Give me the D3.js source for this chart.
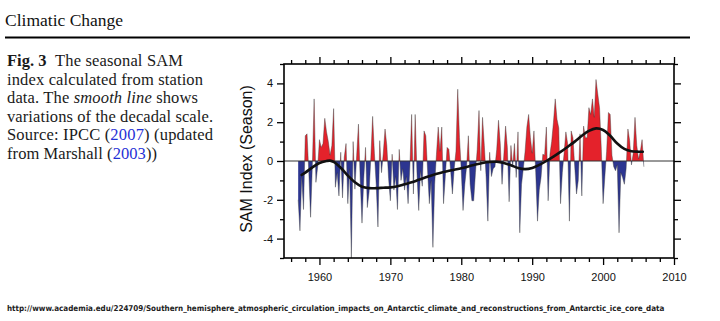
<!DOCTYPE html>
<html>
<head>
<meta charset="utf-8">
<script src="https://cdn.jsdelivr.net/npm/d3@7"></script>
<style>
  body { margin: 0; background: #fff; }
  svg { display: block; }
</style>
</head>
<body>
<svg id="chart" width="720" height="321"></svg>
<script>
// Seasonal SAM index (station based), four values per year starting 1957
const sam1957to1966 = [
  -2.0, -3.6, -0.8, -2.5, 1.3, 1.4, -0.6, -2.9, -0.2, 3.2,
  -1.1, -0.3, 1.1, 0.7, 0.9, 2.2, 1.5, 1.0, 0.3, 0.8,
  2.7, -1.35, -0.6, -1.8, 0.45, -1.9, 0.2, 0.9, -2.2, -0.4,
  -5.0, 1.0, -1.45, 0.3, 1.9, -1.0, -3.2, -0.9, 0.7, -2.4
];
const sam1967to1976 = [
  -1.6, 0.2, 2.3, 0.4, -1.2, -3.4, 1.05, -0.6, 0.4, 1.65,
  0.8, -0.9, -2.05, 0.35, -1.5, -0.8, -2.5, 0.6, -1.0, -0.4,
  -1.5, -0.8, -2.2, -0.3, 2.4, -1.7, 2.4, -0.6, -2.55, -0.5,
  -1.3, 1.55, 1.3, -0.5, -2.2, -1.0, -4.45, -1.2, 0.35, 1.75
];
const sam1977to1986 = [
  0.5, 1.75, -2.2, -0.8, 0.7, 0.6, -0.5, -1.7, -0.4, 0.5,
  3.7, 1.2, -0.5, -2.55, -1.2, -0.3, 1.3, -1.2, -2.05, -2.05,
  -0.6, 0.6, 2.6, -0.5, 2.25, 0.8, -0.8, -3.1, 0.45, -0.8,
  -0.4, -0.3, 0.6, 2.1, 0.9, -1.2, 0.3, 1.8, 0.7, -2.1
];
const sam1987to1996 = [
  0.8, -0.3, 0.9, -0.85, 1.5, -3.7, -1.2, -0.4, 0.5, 1.75,
  2.4, 1.2, 0.4, 1.55, -0.6, -3.1, -1.5, -0.85, 0.35, 0.3,
  1.75, -2.05, 0.35, 1.0, 2.0, 3.2, 2.15, 1.7, -2.2, -0.6,
  0.4, 1.5, 0.9, -3.1, 1.55, 1.2, -0.3, -1.7, -1.0, 1.4
];
const sam1997to2005 = [
  -1.8, 1.8, 1.2, 1.2, 2.75, 2.4, 3.2, 2.25, 4.2, 3.45,
  2.75, 0.6, -2.2, -0.8, 0.5, 2.5, 2.4, 0.3, -0.3, -0.5,
  -0.2, -3.7, -0.6, -0.85, -1.2, -0.4, 1.65, 1.05, -0.2, 0.4,
  2.25, 0.8, 0.1, 0.5, 1.1, -0.3
];
const firstYear = 1957;

// Decadal-scale smoothed index
const smoothYears = [
  1957.5, 1958, 1959, 1960, 1961, 1961.5, 1962, 1963, 1964, 1965, 1966, 1967, 1968, 1969,
  1970, 1971, 1972, 1973, 1974, 1975, 1976, 1977, 1978, 1979, 1980, 1981, 1982, 1983,
  1984, 1985, 1986, 1987, 1988, 1989, 1990, 1991, 1992, 1993, 1994, 1995, 1996, 1997,
  1998, 1999, 2000, 2001, 2002, 2003, 2004, 2005, 2005.6
];
const smoothValues = [
  -0.72, -0.6, -0.33, -0.1, 0.0, 0.02, -0.05, -0.35, -0.75, -1.1, -1.33, -1.4, -1.4, -1.38,
  -1.36, -1.3, -1.2, -1.1, -0.97, -0.84, -0.72, -0.62, -0.53, -0.45, -0.37, -0.28, -0.18, -0.1,
  -0.05, -0.04, -0.1, -0.22, -0.36, -0.42, -0.36, -0.2, 0.0, 0.23, 0.47, 0.73, 1.0, 1.3,
  1.55, 1.68, 1.6, 1.3, 0.9, 0.62, 0.5, 0.48, 0.48
];

// Axis ticks
const xMajorTicks = [1960, 1970, 1980, 1990, 2000, 2010];
const xMinorTicks = [1956, 1958, 1962, 1964, 1966, 1968, 1972, 1974, 1976, 1978, 1982, 1984,
  1986, 1988, 1992, 1994, 1996, 1998, 2002, 2004, 2006, 2008];
const yMajorTicks = [-4, -2, 0, 2, 4];
const yMinorTicks = [-5, -3, -1, 1, 3, 5];

const seasonal = [].concat(sam1957to1966, sam1967to1976, sam1977to1986, sam1987to1996, sam1997to2005)
  .map((v, i) => ({ t: firstYear + i / 4, v }));
const smooth = smoothYears.map((t, i) => ({ t, v: smoothValues[i] }));

const svg = d3.select("#chart");
const sans = "'Liberation Sans', Arial, Helvetica, sans-serif";
const serif = "'Liberation Serif', 'Times New Roman', Times, serif";

// Page header
svg.append("text").attr("x", 5).attr("y", 26)
  .attr("font-family", serif).attr("font-size", 17.5).attr("fill", "#111")
  .text("Climatic Change");
svg.append("line").attr("x1", 5).attr("x2", 690).attr("y1", 37.5).attr("y2", 37.5)
  .attr("stroke", "#000").attr("stroke-width", 2);

// Figure caption, one text element per line so each line can be set to its width
const capX = 7, capY0 = 66, capDy = 18.5, linkBlue = "#1f2fd6";
function capLine(row, xPos, width, parts) {
  const t = svg.append("text").attr("x", xPos).attr("y", capY0 + row * capDy)
    .attr("font-family", serif).attr("font-size", 16.5).attr("fill", "#1a1a1a")
    .attr("textLength", width).attr("lengthAdjust", "spacing");
  parts.forEach(p => {
    const s = t.append("tspan").text(p.s);
    if (p.b) s.attr("font-weight", "bold");
    if (p.i) s.attr("font-style", "italic");
    if (p.c) s.attr("fill", p.c);
  });
}
svg.append("text").attr("x", capX).attr("y", capY0)
  .attr("font-family", serif).attr("font-size", 16.5).attr("font-weight", "bold").attr("fill", "#1a1a1a")
  .text("Fig. 3");
capLine(0, 55, 128, [{ s: "The seasonal SAM" }]);
capLine(1, capX, 196, [{ s: "index calculated from station" }]);
capLine(2, capX, 191, [{ s: "data. The " }, { s: "smooth line", i: true }, { s: " shows" }]);
capLine(3, capX, 206, [{ s: "variations of the decadal scale." }]);
capLine(4, capX, 206, [{ s: "Source: IPCC (" }, { s: "2007", c: linkBlue }, { s: ") (updated" }]);
capLine(5, capX, 150, [{ s: "from Marshall (" }, { s: "2003", c: linkBlue }, { s: "))" }]);

// Plot area
const plotLeft = 284, plotRight = 674, plotTop = 64, plotBottom = 258;
const x = d3.scaleLinear().domain([1955, 2010]).range([plotLeft, plotRight]);
const y = d3.scaleLinear().domain([-5, 5]).range([plotBottom, plotTop]);

const defs = svg.append("defs");
defs.append("clipPath").attr("id", "above").append("rect")
  .attr("x", plotLeft).attr("y", plotTop).attr("width", plotRight - plotLeft).attr("height", y(0) - plotTop);
defs.append("clipPath").attr("id", "below").append("rect")
  .attr("x", plotLeft).attr("y", y(0)).attr("width", plotRight - plotLeft).attr("height", plotBottom - y(0));

const area = d3.area().x(d => x(d.t)).y0(y(0)).y1(d => y(d.v));
svg.append("path").datum(seasonal).attr("d", area)
  .attr("fill", "#e4222b").attr("clip-path", "url(#above)");
svg.append("path").datum(seasonal).attr("d", area)
  .attr("fill", "#2c3590").attr("clip-path", "url(#below)");
svg.append("path").datum(seasonal)
  .attr("d", d3.line().x(d => x(d.t)).y(d => y(d.v)))
  .attr("fill", "none").attr("stroke", "#3a3a3a").attr("stroke-width", 0.6).attr("stroke-opacity", 0.7);

// Zero reference line
svg.append("line").attr("x1", plotLeft).attr("x2", plotRight).attr("y1", y(0)).attr("y2", y(0))
  .attr("stroke", "#333").attr("stroke-width", 1);

// Decadal smooth curve
svg.append("path").datum(smooth)
  .attr("d", d3.line().x(d => x(d.t)).y(d => y(d.v)).curve(d3.curveCatmullRom.alpha(0.5)))
  .attr("fill", "none").attr("stroke", "#111").attr("stroke-width", 2.6)
  .attr("stroke-linecap", "round");

// Axes on all four sides
function styleAxis(g) {
  g.select(".domain").remove();
  g.selectAll(".tick line").attr("stroke", "#000").attr("stroke-width", 1.3);
  g.selectAll(".tick text").attr("font-family", sans).attr("font-size", 11).attr("fill", "#111");
}
const majorLen = 7, minorLen = 4;
svg.append("g").attr("transform", `translate(0,${plotBottom})`)
  .call(d3.axisBottom(x).tickValues(xMinorTicks).tickSize(minorLen).tickFormat(""))
  .call(styleAxis);
svg.append("g").attr("transform", `translate(0,${plotBottom})`)
  .call(d3.axisBottom(x).tickValues(xMajorTicks).tickSize(majorLen).tickPadding(8).tickFormat(d3.format("d")))
  .call(styleAxis);
svg.append("g").attr("transform", `translate(0,${plotTop})`)
  .call(d3.axisTop(x).tickValues(xMinorTicks).tickSize(minorLen).tickFormat(""))
  .call(styleAxis);
svg.append("g").attr("transform", `translate(0,${plotTop})`)
  .call(d3.axisTop(x).tickValues(xMajorTicks).tickSize(majorLen).tickFormat(""))
  .call(styleAxis);
svg.append("g").attr("transform", `translate(${plotLeft},0)`)
  .call(d3.axisLeft(y).tickValues(yMinorTicks).tickSize(minorLen).tickFormat(""))
  .call(styleAxis);
svg.append("g").attr("transform", `translate(${plotLeft},0)`)
  .call(d3.axisLeft(y).tickValues(yMajorTicks).tickSize(majorLen).tickPadding(4).tickFormat(d => String(d)))
  .call(styleAxis);
svg.append("g").attr("transform", `translate(${plotRight},0)`)
  .call(d3.axisRight(y).tickValues(yMinorTicks).tickSize(minorLen).tickFormat(""))
  .call(styleAxis);
svg.append("g").attr("transform", `translate(${plotRight},0)`)
  .call(d3.axisRight(y).tickValues(yMajorTicks).tickSize(majorLen).tickFormat(""))
  .call(styleAxis);

// Frame
svg.append("rect").attr("x", plotLeft).attr("y", plotTop)
  .attr("width", plotRight - plotLeft).attr("height", plotBottom - plotTop)
  .attr("fill", "none").attr("stroke", "#000").attr("stroke-width", 1.6);

// Y axis title
svg.append("text")
  .attr("transform", `translate(252,${(plotTop + plotBottom) / 2 - 2}) rotate(-90)`)
  .attr("text-anchor", "middle")
  .attr("font-family", sans).attr("font-size", 16).attr("fill", "#111")
  .text("SAM Index (Season)");

// Source link, sized so it spans the page width
const url = svg.append("text").attr("x", 7).attr("y", 311)
  .attr("font-family", "'Liberation Sans Narrow', 'DejaVu Sans Condensed', sans-serif")
  .attr("font-size", 9).attr("font-weight", "bold").attr("fill", "#222")
  .text("http://www.academia.edu/224709/Southern_hemisphere_atmospheric_circulation_impacts_on_Antarctic_climate_and_reconstructions_from_Antarctic_ice_core_data");
const urlWidth = url.node().getComputedTextLength();
url.attr("font-size", Math.min(10, 9 * 658 / urlWidth));
</script>
</body>
</html>
